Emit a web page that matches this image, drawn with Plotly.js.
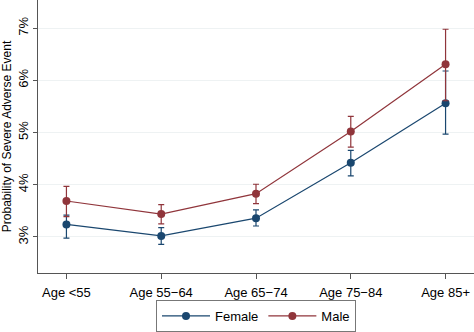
<!DOCTYPE html>
<html><head><meta charset="utf-8">
<script src="https://cdn.plot.ly/plotly-3.0.1.min.js"></script>
<style>html,body{margin:0;padding:0;background:#fff}#c{width:474px;height:332px}</style>
</head><body><div id="c"></div>
<script>
const categories = ["Age <55", "Age 55\u221264", "Age 65\u221274", "Age 75\u221284", "Age 85+"];
const femaleVals = [3.24, 3.02, 3.36, 4.42, 5.56];
const femaleLow  = [2.98, 2.86, 3.21, 4.17, 4.97];
const femaleHigh = [3.42, 3.18, 3.52, 4.66, 6.18];
const maleVals = [3.69, 3.44, 3.83, 5.02, 6.31];
const maleLow  = [3.39, 3.25, 3.64, 4.72, 5.61];
const maleHigh = [3.97, 3.62, 4.01, 5.31, 6.98];
const yTicks = [3, 4, 5, 6, 7];
const yTickText = ["3%", "4%", "5%", "6%", "7%"];

const idx = categories.map((_, i) => i);
function trace(name, vals, lo, hi, color) {
  return {
    type: "scatter", mode: "lines+markers", name: name,
    x: idx, y: vals,
    line: {color: color, width: 1.2},
    marker: {color: color, size: 8},
    error_y: {type: "data", symmetric: false,
      array: vals.map((v, i) => hi[i] - v),
      arrayminus: vals.map((v, i) => v - lo[i]),
      color: color, thickness: 1.2, width: 3}
  };
}
const data = [
  trace("Female", femaleVals, femaleLow, femaleHigh, "#1a476f"),
  trace("Male", maleVals, maleLow, maleHigh, "#90353b")
];
const layout = {
  width: 474, height: 332,
  margin: {l: 38, r: 0, t: 0, b: 52},
  paper_bgcolor: "#fff", plot_bgcolor: "#fff",
  font: {family: "Liberation Sans, Arial, sans-serif", size: 13, color: "#000"},
  showlegend: true,
  legend: {orientation: "h", x: 0.5, xanchor: "center", y: -0.1, yanchor: "top",
    bordercolor: "#777", borderwidth: 1, font: {size: 13}, itemwidth: 48,
    tracegroupgap: 0},
  xaxis: {
    range: [-0.3, 4.3], tickmode: "array", tickvals: idx, ticktext: categories,
    showgrid: false, zeroline: false, showline: true, linecolor: "#555", linewidth: 1,
    ticks: "outside", ticklen: 5, tickcolor: "#555", tickfont: {size: 13},
    ticklabelstandoff: 2
  },
  yaxis: {
    range: [2.31, 7.54], tickmode: "array", tickvals: yTicks, ticktext: yTickText,
    tickangle: -90, showgrid: true, gridcolor: "#eef2f3", gridwidth: 1,
    zeroline: false, showline: true, linecolor: "#555", linewidth: 1,
    ticks: "outside", ticklen: 4, tickcolor: "#555", tickfont: {size: 13},
    title: {text: "Probability of Severe Adverse Event", font: {size: 12}, standoff: 4}
  }
};
Plotly.newPlot("c", data, layout, {displayModeBar: false, staticPlot: true});
</script></body></html>
